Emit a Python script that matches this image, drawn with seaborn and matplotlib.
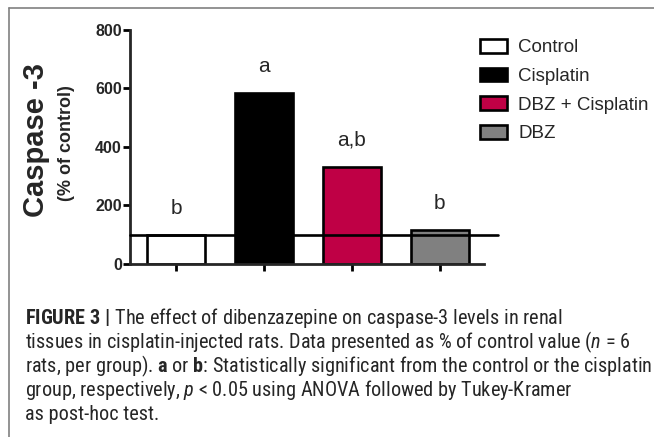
import matplotlib
matplotlib.use("Agg")
import matplotlib.pyplot as plt
from matplotlib import font_manager
from matplotlib.patches import Patch
from matplotlib.lines import Line2D
import seaborn as sns
import pandas as pd

# Datos
groups = ["Control", "Cisplatin", "DBZ + Cisplatin", "DBZ"]
caspase = [100, 585, 332, 116]
letters = ["b", "a", "a,b", "b"]
colors = ["#ffffff", "#000000", "#bf0045", "#808080"]
yticks = [0, 200, 400, 600, 800]

caption = [
    r"$\mathbf{FIGURE\ 3\ |}$ The effect of dibenzazepine on caspase-3 levels in renal",
    r"tissues in cisplatin-injected rats. Data presented as % of control value ($n$ = 6",
    r"rats, per group). $\mathbf{a}$ or $\mathbf{b}$: Statistically significant from the control or the cisplatin",
    r"group, respectively, $p$ < 0.05 using ANOVA followed by Tukey-Kramer",
    "as post-hoc test.",
]

sns.set_style("white")
plt.rcParams["font.family"] = ["Liberation Sans", "DejaVu Sans"]

# fuente estrecha para el pie de figura
names = {f.name for f in font_manager.fontManager.ttflist}
cap_font, cap_size = "Liberation Sans", 11.5
for cand, size in [("Liberation Sans Narrow", 13.5), ("Arial Narrow", 13.5),
                   ("Roboto Condensed", 14.6), ("Archivo Narrow", 14.0),
                   ("PT Sans Narrow", 14.4), ("Fira Sans Condensed", 13.3)]:
    if cand in names:
        cap_font, cap_size = cand, size
        break
plt.rcParams["mathtext.fontset"] = "custom"
plt.rcParams["mathtext.rm"] = cap_font
plt.rcParams["mathtext.it"] = cap_font + ":italic"
plt.rcParams["mathtext.bf"] = cap_font + ":bold"

df = pd.DataFrame({"group": groups, "value": caspase})

fig = plt.figure(figsize=(6.54, 4.37), dpi=100)
ax = fig.add_axes([0.199, 0.396, 0.563, 0.5355])

sns.barplot(data=df, x="group", y="value", hue="group", palette=colors,
            order=groups, hue_order=groups, width=0.66, edgecolor="black",
            linewidth=1.9, saturation=1, dodge=False, legend=False, ax=ax)

ax.set_xlim(-0.525, 3.67)
ax.set_ylim(0, 800)
ax.axhline(100, color="black", lw=1.9, zorder=5, clip_on=False)

for i, (v, lab) in enumerate(zip(caspase, letters)):
    ax.annotate(lab, (i, v), xytext=(0, 19), textcoords="offset points",
                ha="center", va="center", fontsize=15)

sns.despine(ax=ax)
ax.spines["left"].set_linewidth(2)
ax.spines["bottom"].set_linewidth(2)
ax.spines["bottom"].set_bounds(-0.525, 3.51)
ax.set_yticks(yticks)
ax.set_yticklabels([str(t) for t in yticks], fontweight="bold", fontsize=11.5)
ax.set_xticks(range(len(groups)))
ax.set_xticklabels([])
ax.tick_params(axis="both", direction="out", length=5, width=2, color="black",
               left=True, bottom=True, pad=1)
ax.set_xlabel("")
ax.set_ylabel("")

fig.text(0.055, 0.68, "Caspase -3", rotation=90, ha="center", va="center",
         fontsize=21, fontweight="bold")
fig.text(0.102, 0.672, "(% of control)", rotation=90, ha="center", va="center",
         fontsize=13, fontweight="bold")

handles = [Patch(facecolor=c, edgecolor="black", linewidth=1.9) for c in colors]
fig.legend(handles, groups, loc="upper left", bbox_to_anchor=(0.722, 0.928),
           frameon=False, fontsize=13.5, handlelength=1.45, handleheight=0.75,
           handletextpad=0.6, labelspacing=0.6, borderaxespad=0)

# marco de la figura
fig.add_artist(Line2D([0.014, 1.0], [0.982, 0.982], color="#808080", lw=1.2))
fig.add_artist(Line2D([0.014, 0.014], [0.0, 0.982], color="#808080", lw=1.2))

y0 = 1 - 318 / 437
for k, line in enumerate(caption):
    fig.text(25 / 654, y0 - k * 24 / 437, line, ha="left", va="center",
             fontsize=cap_size, family=cap_font)

fig.savefig("out.png", dpi=100)
